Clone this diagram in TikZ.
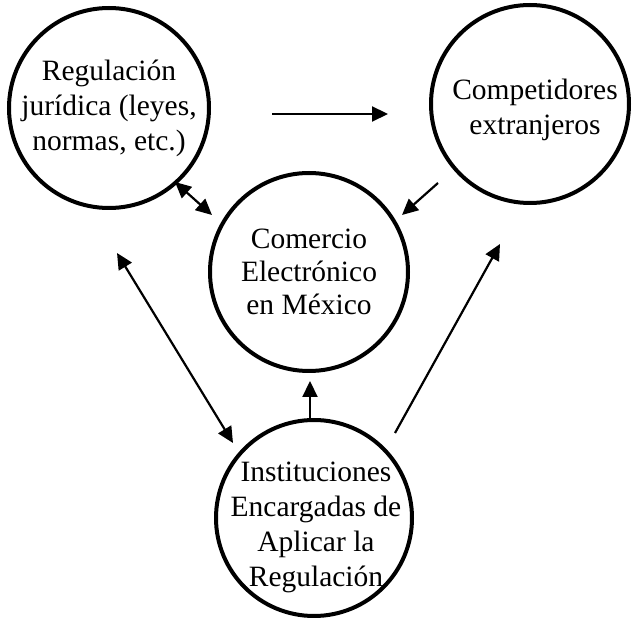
\documentclass[tikz,border=0pt]{standalone}
\usepackage{fontspec}
\setmainfont{Liberation Serif}
\usetikzlibrary{arrows.meta}
\begin{document}
\begin{tikzpicture}[x=1pt,y=-1pt,
  bubble/.style={draw=black,circle,line width=4pt,inner sep=0pt},
  txt/.style={align=center,inner sep=0pt,font=\fontsize{29.5}{35}\selectfont},
  arr/.style={line width=2.2pt,-{Triangle[length=16pt,width=15pt]}},
  darr/.style={line width=2.2pt,{Triangle[length=16pt,width=15pt]}-{Triangle[length=16pt,width=15pt]}}]
\useasboundingbox (0,0) rectangle (633,620);
\node[bubble,minimum size=200pt] (reg) at (109,108) {};
\node[bubble,minimum size=198pt] (comp) at (530,104) {};
\node[bubble,minimum size=198pt] (com) at (309,272) {};
\node[bubble,minimum size=196pt] (inst) at (314,518) {};
\node[txt] (regt) at (reg.center) {Regulación\\jurídica (leyes,\\normas, etc.)};
\node[txt] (compt) at ([xshift=5pt,yshift=-6pt]comp.center) {Competidores\\extranjeros};
\node[txt] (comt) at (com.center) {Comercio\\[-2pt]Electrónico\\[-2pt]en México};
\node[txt] (instt) at ([xshift=2pt,yshift=-9pt]inst.center) {Instituciones\\Encargadas de\\Aplicar la\\Regulación};
% connector ends
\coordinate (a1) at (272,114); \coordinate (a2) at (388,114);
\coordinate (b1) at (438,183); \coordinate (b2) at (402,215);
\coordinate (c1) at (175,182); \coordinate (c2) at (212,215);
\coordinate (d1) at (117,253); \coordinate (d2) at (233,443);
\coordinate (e1) at (310,422); \coordinate (e2) at (310,381);
\coordinate (f1) at (395,433); \coordinate (f2) at (500,244);
\draw[arr] (a1) -- (a2);
\draw[arr] (b1) -- (b2);
\draw[darr] (c1) -- (c2);
\draw[darr] (d1) -- (d2);
\draw[arr] (e1) -- (e2);
\draw[arr] (f1) -- (f2);
\end{tikzpicture}
\end{document}
